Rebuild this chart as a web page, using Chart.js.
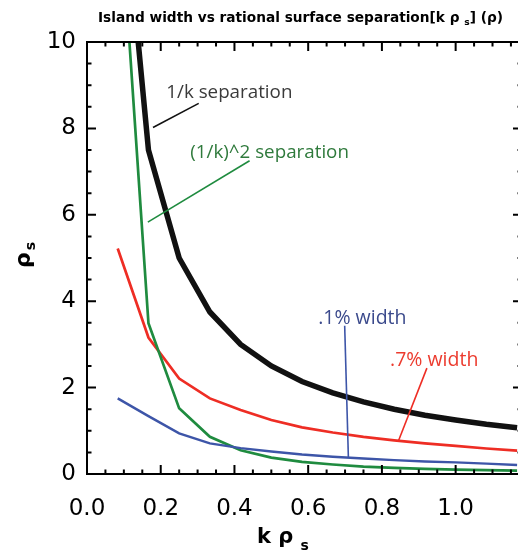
<!DOCTYPE html>
<html>
<head>
<meta charset="utf-8">
<script src="https://cdn.jsdelivr.net/npm/chart.js@4/dist/chart.umd.min.js"></script>
<style>
  html, body { margin: 0; padding: 0; background: #ffffff; overflow: hidden; width: 518px; height: 552px; }
  canvas { display: block; }
</style>
</head>
<body>
<canvas id="c" width="540" height="552"></canvas>
<script>
// ---- data ----
const kRhoS = [0.0833, 0.1667, 0.25, 0.3333, 0.4167, 0.5, 0.5833, 0.6667, 0.75, 0.8333, 0.9167, 1.0, 1.0833, 1.1667];
const sepOneOverK = [15.0, 7.5, 5.0, 3.75, 3.0, 2.5, 2.14, 1.88, 1.67, 1.5, 1.36, 1.25, 1.15, 1.07];
const sepOneOverKSq = [14.0, 3.49, 1.52, 0.86, 0.55, 0.38, 0.28, 0.22, 0.17, 0.14, 0.12, 0.10, 0.09, 0.08];
const widthPoint7 = [5.22, 3.16, 2.21, 1.75, 1.48, 1.25, 1.08, 0.96, 0.86, 0.78, 0.71, 0.65, 0.59, 0.54];
const widthPoint1 = [1.75, 1.34, 0.94, 0.71, 0.60, 0.52, 0.45, 0.40, 0.36, 0.32, 0.29, 0.27, 0.24, 0.21];

const xTickStep = 0.2;
const yTickStep = 2;
const xMinorStep = 0.05;
const yMinorStep = 0.5;

const chartTitle = ["Island width vs rational surface separation[k \u03c1 ", "s", "] (\u03c1)"];
const xTitle = ["k \u03c1 ", "s"];
const yTitle = ["\u03c1", "s"];

// annotations: label text, label anchor (data), pointer line start/end (data)
const notes = [
  { text: "1/k separation", size: 18.8, color: "#3a3a3a", line: "#111111", at: [0.215, 8.82], from: [0.303, 8.58], to: [0.179, 8.02] },
  { text: "(1/k)^2 separation", size: 18.8, color: "#2f7a3c", line: "#1f8b3f", at: [0.280, 7.43], from: [0.441, 7.25], to: [0.165, 5.83] },
  { text: ".1% width", size: 19.5, color: "#3b4a8c", line: "#3d55a8", at: [0.627, 3.61], from: [0.699, 3.43], to: [0.709, 0.39] },
  { text: ".7% width", size: 19.5, color: "#ec3b2e", line: "#ee2d24", at: [0.822, 2.64], from: [0.922, 2.45], to: [0.845, 0.77] }
];

function pts(ys) { return kRhoS.map((x, i) => ({ x: x, y: ys[i] })); }

const decor = {
  id: 'decor',
  afterDatasetsDraw(chart) {
    const ctx = chart.ctx, xs = chart.scales.x, ys = chart.scales.y;
    ctx.save();
    ctx.textBaseline = 'middle';
    ctx.textAlign = 'left';
    for (const n of notes) {
      ctx.strokeStyle = n.line;
      ctx.lineWidth = 1.6;
      ctx.beginPath();
      ctx.moveTo(xs.getPixelForValue(n.from[0]), ys.getPixelForValue(n.from[1]));
      ctx.lineTo(xs.getPixelForValue(n.to[0]), ys.getPixelForValue(n.to[1]));
      ctx.stroke();
      ctx.font = n.size + 'px "Open Sans"';
      ctx.fillStyle = n.color;
      ctx.fillText(n.text, xs.getPixelForValue(n.at[0]), ys.getPixelForValue(n.at[1]));
    }
    ctx.restore();
  },
  afterDraw(chart) {
    const ctx = chart.ctx, a = chart.chartArea, xs = chart.scales.x, ys = chart.scales.y;
    ctx.save();
    ctx.strokeStyle = '#000';
    ctx.lineWidth = 2;
    ctx.strokeRect(a.left, a.top, a.right - a.left, a.bottom - a.top);
    // inward ticks
    ctx.lineWidth = 2;
    ctx.beginPath();
    for (let v = xs.min, i = 0; v <= xs.max + 1e-9; i++, v = xs.min + i * xMinorStep) {
      const major = Math.abs(v / xTickStep - Math.round(v / xTickStep)) < 1e-6;
      const L = major ? 9 : 4.5;
      const px = xs.getPixelForValue(v);
      ctx.moveTo(px, a.bottom); ctx.lineTo(px, a.bottom - L);
      ctx.moveTo(px, a.top); ctx.lineTo(px, a.top + L);
    }
    for (let v = ys.min, i = 0; v <= ys.max + 1e-9; i++, v = ys.min + i * yMinorStep) {
      const major = Math.abs(v / yTickStep - Math.round(v / yTickStep)) < 1e-6;
      const L = major ? 9 : 4.5;
      const py = ys.getPixelForValue(v);
      ctx.moveTo(a.left, py); ctx.lineTo(a.left + L, py);
      ctx.moveTo(a.right, py); ctx.lineTo(a.right - L, py);
    }
    ctx.stroke();

    ctx.fillStyle = '#000';
    // chart title (stretched to the reference width)
    ctx.textBaseline = 'alphabetic';
    ctx.textAlign = 'left';
    const big = 'bold 13.5px "DejaVu Sans"', small = 'bold 9px "DejaVu Sans"';
    ctx.font = big; const w0 = ctx.measureText(chartTitle[0]).width, w2 = ctx.measureText(chartTitle[2]).width;
    ctx.font = small; const w1 = ctx.measureText(chartTitle[1]).width;
    const total = w0 + w1 + w2;
    const sx = 405 / total;
    ctx.save();
    ctx.translate(98, 22);
    ctx.scale(sx, 1);
    ctx.font = big; ctx.fillText(chartTitle[0], 0, 0);
    ctx.font = small; ctx.fillText(chartTitle[1], w0, 3);
    ctx.font = big; ctx.fillText(chartTitle[2], w0 + w1, 0);
    ctx.restore();

    // x title
    let xx = 257;
    ctx.font = 'bold 21px "DejaVu Sans"';
    ctx.fillText(xTitle[0], xx, 543); xx += ctx.measureText(xTitle[0]).width;
    ctx.font = 'bold 14px "DejaVu Sans"';
    ctx.fillText(xTitle[1], xx, 550);

    // y title (rotated)
    ctx.save();
    ctx.translate(30, 268);
    ctx.rotate(-Math.PI / 2);
    ctx.font = 'bold 22px "DejaVu Sans"';
    ctx.fillText(yTitle[0], 0, 0);
    const w = ctx.measureText(yTitle[0]).width;
    ctx.font = 'bold 14px "DejaVu Sans"';
    ctx.fillText(yTitle[1], w + 2, 5);
    ctx.restore();
    ctx.restore();
  }
};

new Chart(document.getElementById('c'), {
  type: 'line',
  data: {
    datasets: [
      { label: '.1% width', data: pts(widthPoint1), borderColor: '#3d55a8', borderWidth: 2.4 },
      { label: '(1/k)^2 separation', data: pts(sepOneOverKSq), borderColor: '#1f8b3f', borderWidth: 2.7 },
      { label: '.7% width', data: pts(widthPoint7), borderColor: '#ee2d24', borderWidth: 2.7 },
      { label: '1/k separation', data: pts(sepOneOverK), borderColor: '#111111', borderWidth: 5.5 }
    ]
  },
  options: {
    responsive: false,
    animation: false,
    events: [],
    elements: { point: { radius: 0 }, line: { tension: 0, fill: false, borderJoinStyle: 'miter', borderCapStyle: 'butt' } },
    layout: { padding: { left: 0, top: 42, right: 18, bottom: 0 } },
    plugins: { legend: { display: false }, title: { display: false }, tooltip: { enabled: false } },
    scales: {
      x: {
        type: 'linear', min: 0, max: 1.18,
        grid: { display: false, drawTicks: false, tickLength: 0 }, border: { display: false },
        ticks: { stepSize: xTickStep, includeBounds: false, padding: 21, color: '#000', maxRotation: 0,
                 font: { family: '"DejaVu Sans"', size: 23 }, callback: v => v.toFixed(1) },
        afterFit: s => { s.height = 78; s.paddingLeft = 0; s.paddingRight = 0; }
      },
      y: {
        type: 'linear', min: 0, max: 10,
        grid: { display: false, drawTicks: false, tickLength: 0 }, border: { display: false },
        ticks: { stepSize: yTickStep, padding: 11, color: '#000',
                 font: { family: '"DejaVu Sans"', size: 23 }, callback: v => String(v) },
        afterFit: s => { s.width = 87; s.paddingTop = 0; s.paddingBottom = 0; }
      }
    }
  },
  plugins: [decor]
});
</script>
</body>
</html>
